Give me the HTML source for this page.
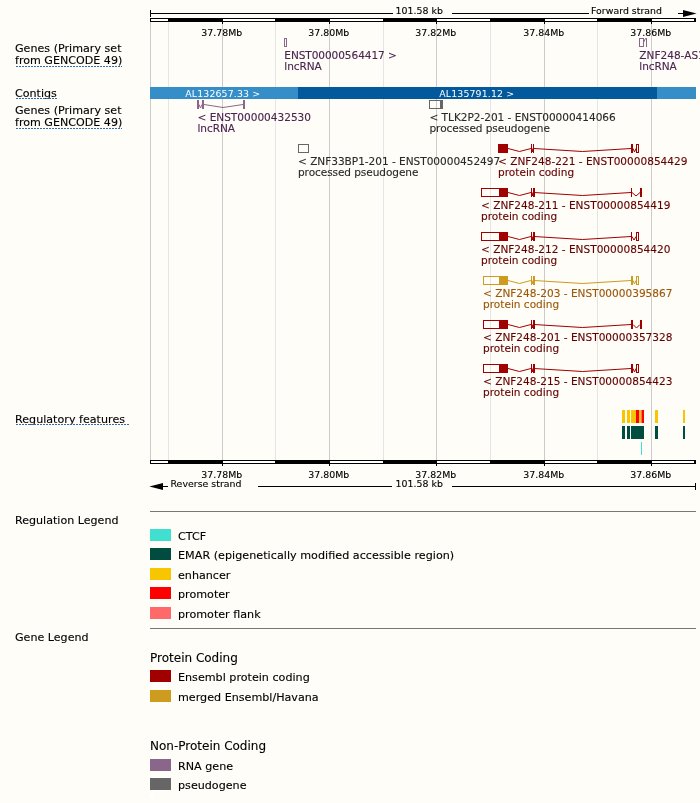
<!DOCTYPE html>
<html><head><meta charset="utf-8"><title>Region in detail</title>
<style>
html,body{margin:0;padding:0;background:#fffdf7;}
svg{display:block;will-change:transform;font-family:"DejaVu Sans","Liberation Sans",sans-serif;}
text{white-space:pre;}
</style></head><body>
<svg width="700" height="803" viewBox="0 0 700 803">
<rect x="0" y="0" width="700" height="803" fill="#fffdf7"/>
<rect x="150" y="22" width="1" height="438" fill="#cccccc"/>
<rect x="168" y="22" width="1" height="438" fill="#e5e5e5"/>
<rect x="222" y="22" width="1" height="438" fill="#cccccc"/>
<rect x="275" y="22" width="1" height="438" fill="#e5e5e5"/>
<rect x="329" y="22" width="1" height="438" fill="#cccccc"/>
<rect x="383" y="22" width="1" height="438" fill="#e5e5e5"/>
<rect x="436" y="22" width="1" height="438" fill="#cccccc"/>
<rect x="490" y="22" width="1" height="438" fill="#e5e5e5"/>
<rect x="544" y="22" width="1" height="438" fill="#cccccc"/>
<rect x="597" y="22" width="1" height="438" fill="#e5e5e5"/>
<rect x="651" y="22" width="1" height="438" fill="#cccccc"/>
<rect x="150" y="18" width="546" height="4" fill="#000"/>
<rect x="151" y="19" width="17" height="2" fill="#fff"/>
<rect x="223" y="19" width="52" height="2" fill="#fff"/>
<rect x="330" y="19" width="53" height="2" fill="#fff"/>
<rect x="437" y="19" width="53" height="2" fill="#fff"/>
<rect x="545" y="19" width="52" height="2" fill="#fff"/>
<rect x="652" y="19" width="42" height="2" fill="#fff"/>
<rect x="222" y="22" width="1" height="2" fill="#000"/>
<rect x="329" y="22" width="1" height="2" fill="#000"/>
<rect x="436" y="22" width="1" height="2" fill="#000"/>
<rect x="544" y="22" width="1" height="2" fill="#000"/>
<rect x="651" y="22" width="1" height="2" fill="#000"/>
<rect x="150" y="460" width="546" height="4" fill="#000"/>
<rect x="151" y="461" width="17" height="2" fill="#fff"/>
<rect x="223" y="461" width="52" height="2" fill="#fff"/>
<rect x="330" y="461" width="53" height="2" fill="#fff"/>
<rect x="437" y="461" width="53" height="2" fill="#fff"/>
<rect x="545" y="461" width="52" height="2" fill="#fff"/>
<rect x="652" y="461" width="42" height="2" fill="#fff"/>
<rect x="222" y="464" width="1" height="2" fill="#000"/>
<rect x="329" y="464" width="1" height="2" fill="#000"/>
<rect x="436" y="464" width="1" height="2" fill="#000"/>
<rect x="544" y="464" width="1" height="2" fill="#000"/>
<rect x="651" y="464" width="1" height="2" fill="#000"/>
<text x="201.2" y="35.5" font-size="9.4" fill="#000000" stroke="#000000" stroke-width="0.12" textLength="41" lengthAdjust="spacing">37.78Mb</text>
<text x="201.2" y="477.5" font-size="9.4" fill="#000000" stroke="#000000" stroke-width="0.12" textLength="41" lengthAdjust="spacing">37.78Mb</text>
<text x="308.2" y="35.5" font-size="9.4" fill="#000000" stroke="#000000" stroke-width="0.12" textLength="41" lengthAdjust="spacing">37.80Mb</text>
<text x="308.2" y="477.5" font-size="9.4" fill="#000000" stroke="#000000" stroke-width="0.12" textLength="41" lengthAdjust="spacing">37.80Mb</text>
<text x="415.2" y="35.5" font-size="9.4" fill="#000000" stroke="#000000" stroke-width="0.12" textLength="41" lengthAdjust="spacing">37.82Mb</text>
<text x="415.2" y="477.5" font-size="9.4" fill="#000000" stroke="#000000" stroke-width="0.12" textLength="41" lengthAdjust="spacing">37.82Mb</text>
<text x="523.2" y="35.5" font-size="9.4" fill="#000000" stroke="#000000" stroke-width="0.12" textLength="41" lengthAdjust="spacing">37.84Mb</text>
<text x="523.2" y="477.5" font-size="9.4" fill="#000000" stroke="#000000" stroke-width="0.12" textLength="41" lengthAdjust="spacing">37.84Mb</text>
<text x="630.2" y="35.5" font-size="9.4" fill="#000000" stroke="#000000" stroke-width="0.12" textLength="41" lengthAdjust="spacing">37.86Mb</text>
<text x="630.2" y="477.5" font-size="9.4" fill="#000000" stroke="#000000" stroke-width="0.12" textLength="41" lengthAdjust="spacing">37.86Mb</text>
<rect x="150" y="10" width="1" height="7" fill="#000"/>
<rect x="150" y="13" width="243" height="1" fill="#000"/>
<text x="395.5" y="14" font-size="9.4" fill="#000000" stroke="#000000" stroke-width="0.12" textLength="47.5" lengthAdjust="spacing">101.58 kb</text>
<rect x="452" y="13" width="137" height="1" fill="#000"/>
<text x="591" y="14" font-size="9.4" fill="#000000" stroke="#000000" stroke-width="0.12" textLength="71" lengthAdjust="spacing">Forward strand</text>
<rect x="678" y="13" width="6" height="1" fill="#000"/>
<polygon points="683,10 696.6,13.5 683,17" fill="#000"/>
<polygon points="163,483 149.4,486.5 163,490" fill="#000"/>
<rect x="162" y="486" width="6" height="1" fill="#000"/>
<text x="170.5" y="487" font-size="9.4" fill="#000000" stroke="#000000" stroke-width="0.12" textLength="71" lengthAdjust="spacing">Reverse strand</text>
<rect x="258" y="486" width="134" height="1" fill="#000"/>
<text x="395.5" y="487" font-size="9.4" fill="#000000" stroke="#000000" stroke-width="0.12" textLength="47.5" lengthAdjust="spacing">101.58 kb</text>
<rect x="452" y="486" width="244" height="1" fill="#000"/>
<rect x="695" y="483" width="1" height="7" fill="#000"/>
<text x="15" y="52" font-size="11.1" fill="#000000" stroke="#000000" stroke-width="0.12" textLength="106.5" lengthAdjust="spacing">Genes (Primary set</text>
<text x="15" y="64.2" font-size="11.1" fill="#000000" stroke="#000000" stroke-width="0.12" textLength="107.3" lengthAdjust="spacing">from GENCODE 49)</text>
<line x1="16" y1="66.5" x2="122" y2="66.5" stroke="#336cab" stroke-width="1" stroke-dasharray="2,1"/>
<text x="15" y="97" font-size="11.1" fill="#000000" stroke="#000000" stroke-width="0.12" textLength="41.8" lengthAdjust="spacing">Contigs</text>
<line x1="16" y1="98.5" x2="57" y2="98.5" stroke="#336cab" stroke-width="1" stroke-dasharray="2,1"/>
<text x="15" y="114" font-size="11.1" fill="#000000" stroke="#000000" stroke-width="0.12" textLength="106.5" lengthAdjust="spacing">Genes (Primary set</text>
<text x="15" y="126.2" font-size="11.1" fill="#000000" stroke="#000000" stroke-width="0.12" textLength="107.3" lengthAdjust="spacing">from GENCODE 49)</text>
<line x1="16" y1="128.5" x2="122" y2="128.5" stroke="#336cab" stroke-width="1" stroke-dasharray="2,1"/>
<text x="15" y="422.7" font-size="11.1" fill="#000000" stroke="#000000" stroke-width="0.12" textLength="110" lengthAdjust="spacing">Regulatory features</text>
<line x1="16" y1="424.5" x2="129" y2="424.5" stroke="#336cab" stroke-width="1" stroke-dasharray="2,1"/>
<text x="15" y="524" font-size="11.1" fill="#000000" stroke="#000000" stroke-width="0.12">Regulation Legend</text>
<text x="15" y="641" font-size="11.1" fill="#000000" stroke="#000000" stroke-width="0.12">Gene Legend</text>
<rect x="150" y="87" width="148" height="12" fill="#368ec9"/>
<rect x="298" y="87" width="359" height="12" fill="#02599c"/>
<rect x="657" y="87" width="39" height="12" fill="#368ec9"/>
<text x="185.2" y="96.9" font-size="9.4" fill="#ffffff" stroke="#ffffff" stroke-width="0" textLength="75" lengthAdjust="spacing">AL132657.33 &gt;</text>
<text x="439.2" y="96.9" font-size="9.4" fill="#ffffff" stroke="#ffffff" stroke-width="0" textLength="75" lengthAdjust="spacing">AL135791.12 &gt;</text>
<rect x="284.5" y="38.5" width="2" height="8" fill="none" stroke="#8b668b" stroke-width="1"/>
<text x="284.3" y="58.5" font-size="10.55" fill="#4b2350" stroke="#4b2350" stroke-width="0.12" textLength="112.5" lengthAdjust="spacing">ENST00000564417 &gt;</text>
<text x="284.3" y="69.5" font-size="10.55" fill="#4b2350" stroke="#4b2350" stroke-width="0.12" textLength="37.5" lengthAdjust="spacing">lncRNA</text>
<rect x="639.5" y="38.5" width="4" height="8" fill="none" stroke="#8b668b" stroke-width="1"/>
<polyline points="643.5,42.5 645.5,38.5 646.5,38.5" fill="none" stroke="#8b668b" stroke-width="1"/>
<rect x="646" y="38" width="1" height="9" fill="#8b668b"/>
<text x="639.3" y="58.5" font-size="10.55" fill="#4b2350" stroke="#4b2350" stroke-width="0.12">ZNF248-AS1-201 &gt;</text>
<text x="639.3" y="69.5" font-size="10.55" fill="#4b2350" stroke="#4b2350" stroke-width="0.12" textLength="37.5" lengthAdjust="spacing">lncRNA</text>
<rect x="197" y="100" width="2" height="9" fill="#8b668b"/>
<rect x="202" y="100" width="2" height="9" fill="#8b668b"/>
<polyline points="199,104.5 200.5,108 202,104.5" fill="none" stroke="#8b668b"/>
<polyline points="204,104.5 223,107.5 243,104.5" fill="none" stroke="#8b668b"/>
<rect x="243" y="100" width="2" height="9" fill="#8b668b"/>
<text x="197.5" y="120.7" font-size="10.55" fill="#4b2350" stroke="#4b2350" stroke-width="0.12" textLength="113.5" lengthAdjust="spacing">&lt; ENST00000432530</text>
<text x="197.5" y="131.7" font-size="10.55" fill="#4b2350" stroke="#4b2350" stroke-width="0.12" textLength="37.5" lengthAdjust="spacing">lncRNA</text>
<rect x="429.5" y="100.5" width="13" height="8" fill="none" stroke="#666666" stroke-width="1"/>
<rect x="440" y="100" width="3" height="9" fill="#666666"/>
<text x="429.5" y="120.7" font-size="10.55" fill="#2a2a2a" stroke="#2a2a2a" stroke-width="0.12" textLength="186.2" lengthAdjust="spacing">&lt; TLK2P2-201 - ENST00000414066</text>
<text x="429.5" y="131.7" font-size="10.55" fill="#2a2a2a" stroke="#2a2a2a" stroke-width="0.12" textLength="120.4" lengthAdjust="spacing">processed pseudogene</text>
<rect x="298.5" y="144.5" width="10" height="8" fill="none" stroke="#666666" stroke-width="1"/>
<text x="298" y="164.7" font-size="10.55" fill="#2a2a2a" stroke="#2a2a2a" stroke-width="0.12" textLength="202.2" lengthAdjust="spacing">&lt; ZNF33BP1-201 - ENST00000452497</text>
<text x="298" y="175.7" font-size="10.55" fill="#2a2a2a" stroke="#2a2a2a" stroke-width="0.12" textLength="120.4" lengthAdjust="spacing">processed pseudogene</text>
<rect x="498" y="144" width="10" height="9" fill="#a00000"/>
<polyline points="508,148.5 519.5,151.5 531,148.5" fill="none" stroke="#a00000"/>
<rect x="531" y="144" width="1" height="9" fill="#a00000"/>
<polyline points="532,148.5 532.5,152 533,148.5" fill="none" stroke="#a00000"/>
<rect x="533" y="144" width="1" height="9" fill="#a00000"/>
<polyline points="534,148.5 582.5,151.5 631,148.5" fill="none" stroke="#a00000"/>
<rect x="631" y="144" width="2" height="9" fill="#a00000"/>
<polyline points="633,148.5 634.5,152 636,148.5" fill="none" stroke="#a00000"/>
<rect x="636.5" y="144.5" width="2" height="8" fill="none" stroke="#a00000" stroke-width="1"/>
<text x="498" y="164.7" font-size="10.55" fill="#620000" stroke="#620000" stroke-width="0.12">&lt; ZNF248-221 - ENST00000854429</text>
<text x="498" y="175.7" font-size="10.55" fill="#620000" stroke="#620000" stroke-width="0.12">protein coding</text>
<rect x="481.5" y="188.5" width="26" height="8" fill="none" stroke="#a00000" stroke-width="1"/>
<rect x="499" y="188" width="9" height="9" fill="#a00000"/>
<polyline points="508,192.5 519.5,195.5 531,192.5" fill="none" stroke="#a00000"/>
<rect x="531" y="188" width="1" height="9" fill="#a00000"/>
<polyline points="532,192.5 532.5,196 533,192.5" fill="none" stroke="#a00000"/>
<rect x="533" y="188" width="2" height="9" fill="#a00000"/>
<polyline points="534,192.5 582.5,195.5 631,192.5" fill="none" stroke="#a00000"/>
<rect x="631" y="188" width="1" height="9" fill="#a00000"/>
<polyline points="632,192.5 636,196 640,192.5" fill="none" stroke="#a00000"/>
<rect x="640" y="188" width="2" height="9" fill="#a00000"/>
<text x="481" y="208.7" font-size="10.55" fill="#620000" stroke="#620000" stroke-width="0.12">&lt; ZNF248-211 - ENST00000854419</text>
<text x="481" y="219.7" font-size="10.55" fill="#620000" stroke="#620000" stroke-width="0.12">protein coding</text>
<rect x="481.5" y="232.5" width="26" height="8" fill="none" stroke="#a00000" stroke-width="1"/>
<rect x="499" y="232" width="9" height="9" fill="#a00000"/>
<polyline points="508,236.5 519.5,239.5 531,236.5" fill="none" stroke="#a00000"/>
<rect x="531" y="232" width="1" height="9" fill="#a00000"/>
<polyline points="532,236.5 532.5,240 533,236.5" fill="none" stroke="#a00000"/>
<rect x="533" y="232" width="2" height="9" fill="#a00000"/>
<polyline points="534,236.5 582.5,239.5 631,236.5" fill="none" stroke="#a00000"/>
<rect x="631" y="232" width="1" height="9" fill="#a00000"/>
<polyline points="632,236.5 634,240 636,236.5" fill="none" stroke="#a00000"/>
<rect x="636.5" y="232.5" width="2" height="8" fill="none" stroke="#a00000" stroke-width="1"/>
<text x="481" y="252.7" font-size="10.55" fill="#620000" stroke="#620000" stroke-width="0.12">&lt; ZNF248-212 - ENST00000854420</text>
<text x="481" y="263.7" font-size="10.55" fill="#620000" stroke="#620000" stroke-width="0.12">protein coding</text>
<rect x="483.5" y="276.5" width="24" height="8" fill="none" stroke="#cd9b1d" stroke-width="1"/>
<rect x="499" y="276" width="9" height="9" fill="#cd9b1d"/>
<polyline points="508,280.5 519.5,283.5 531,280.5" fill="none" stroke="#cd9b1d"/>
<rect x="531" y="276" width="1" height="9" fill="#cd9b1d"/>
<polyline points="532,280.5 532.5,284 533,280.5" fill="none" stroke="#cd9b1d"/>
<rect x="533" y="276" width="2" height="9" fill="#cd9b1d"/>
<polyline points="534,280.5 582.5,283.5 631,280.5" fill="none" stroke="#cd9b1d"/>
<rect x="631" y="276" width="2" height="9" fill="#cd9b1d"/>
<polyline points="633,280.5 634.5,284 636,280.5" fill="none" stroke="#cd9b1d"/>
<rect x="636.5" y="276.5" width="2" height="8" fill="none" stroke="#cd9b1d" stroke-width="1"/>
<text x="483" y="296.7" font-size="10.55" fill="#9c570a" stroke="#9c570a" stroke-width="0.12">&lt; ZNF248-203 - ENST00000395867</text>
<text x="483" y="307.7" font-size="10.55" fill="#9c570a" stroke="#9c570a" stroke-width="0.12">protein coding</text>
<rect x="483.5" y="320.5" width="24" height="8" fill="none" stroke="#a00000" stroke-width="1"/>
<rect x="499" y="320" width="9" height="9" fill="#a00000"/>
<polyline points="508,324.5 519.5,327.5 531,324.5" fill="none" stroke="#a00000"/>
<rect x="531" y="320" width="1" height="9" fill="#a00000"/>
<polyline points="532,324.5 532.5,328 533,324.5" fill="none" stroke="#a00000"/>
<rect x="533" y="320" width="2" height="9" fill="#a00000"/>
<polyline points="534,324.5 582.5,327.5 631,324.5" fill="none" stroke="#a00000"/>
<rect x="631" y="320" width="2" height="9" fill="#a00000"/>
<polyline points="633,324.5 636.5,328 640,324.5" fill="none" stroke="#a00000"/>
<rect x="640" y="320" width="2" height="9" fill="#a00000"/>
<text x="483" y="340.7" font-size="10.55" fill="#620000" stroke="#620000" stroke-width="0.12">&lt; ZNF248-201 - ENST00000357328</text>
<text x="483" y="351.7" font-size="10.55" fill="#620000" stroke="#620000" stroke-width="0.12">protein coding</text>
<rect x="483.5" y="364.5" width="24" height="8" fill="none" stroke="#a00000" stroke-width="1"/>
<rect x="499" y="364" width="9" height="9" fill="#a00000"/>
<polyline points="508,368.5 519.5,371.5 531,368.5" fill="none" stroke="#a00000"/>
<rect x="531" y="364" width="1" height="9" fill="#a00000"/>
<polyline points="532,368.5 532.5,372 533,368.5" fill="none" stroke="#a00000"/>
<rect x="533" y="364" width="2" height="9" fill="#a00000"/>
<polyline points="534,368.5 582.5,371.5 631,368.5" fill="none" stroke="#a00000"/>
<rect x="631" y="364" width="2" height="9" fill="#a00000"/>
<polyline points="633,368.5 634.5,372 636,368.5" fill="none" stroke="#a00000"/>
<rect x="636.5" y="364.5" width="2" height="8" fill="none" stroke="#a00000" stroke-width="1"/>
<text x="483" y="384.7" font-size="10.55" fill="#620000" stroke="#620000" stroke-width="0.12">&lt; ZNF248-215 - ENST00000854423</text>
<text x="483" y="395.7" font-size="10.55" fill="#620000" stroke="#620000" stroke-width="0.12">protein coding</text>
<rect x="622" y="410" width="3" height="13" fill="#f8c600"/>
<rect x="627" y="410" width="3" height="13" fill="#f8c600"/>
<rect x="631" y="410" width="5" height="13" fill="#f8c600"/>
<rect x="636" y="410" width="3" height="13" fill="#ff0000"/>
<rect x="639" y="410" width="2" height="13" fill="#f8c600"/>
<rect x="641" y="410" width="1" height="13" fill="#ff6969"/>
<rect x="642" y="410" width="2" height="13" fill="#ff0000"/>
<rect x="655" y="410" width="3" height="13" fill="#f8c600"/>
<rect x="683" y="410" width="2" height="13" fill="#f8c600"/>
<rect x="622" y="426" width="3" height="13" fill="#004d40"/>
<rect x="627" y="426" width="3" height="13" fill="#004d40"/>
<rect x="631" y="426" width="13" height="13" fill="#004d40"/>
<rect x="655" y="426" width="3" height="13" fill="#004d40"/>
<rect x="683" y="426" width="2" height="13" fill="#004d40"/>
<rect x="641" y="442" width="1" height="13" fill="#40e0d0"/>
<rect x="150" y="511" width="546" height="1" fill="#777777"/>
<rect x="150" y="628" width="546" height="1" fill="#777777"/>
<rect x="150" y="622" width="3" height="5" fill="#ffffff"/>
<rect x="150" y="793" width="3" height="5" fill="#ffffff"/>
<rect x="150" y="529" width="21" height="12" fill="#40e0d0"/>
<text x="178" y="539.9" font-size="11.15" fill="#000000" stroke="#000000" stroke-width="0.12">CTCF</text>
<rect x="150" y="548" width="21" height="12" fill="#004d40"/>
<text x="178" y="558.9" font-size="11.15" fill="#000000" stroke="#000000" stroke-width="0.12" textLength="276.2" lengthAdjust="spacing">EMAR (epigenetically modified accessible region)</text>
<rect x="150" y="568" width="21" height="12" fill="#f8c600"/>
<text x="178" y="578.9" font-size="11.15" fill="#000000" stroke="#000000" stroke-width="0.12">enhancer</text>
<rect x="150" y="587" width="21" height="12" fill="#ff0000"/>
<text x="178" y="597.9" font-size="11.15" fill="#000000" stroke="#000000" stroke-width="0.12">promoter</text>
<rect x="150" y="607" width="21" height="12" fill="#ff6969"/>
<text x="178" y="617.9" font-size="11.15" fill="#000000" stroke="#000000" stroke-width="0.12">promoter flank</text>
<text x="150" y="662" font-size="12" fill="#000000" stroke="#000000" stroke-width="0.12">Protein Coding</text>
<rect x="150" y="670" width="21" height="12" fill="#a00000"/>
<text x="178" y="681" font-size="11.15" fill="#000000" stroke="#000000" stroke-width="0.12">Ensembl protein coding</text>
<rect x="150" y="690" width="21" height="12" fill="#cd9b1d"/>
<text x="178" y="701" font-size="11.15" fill="#000000" stroke="#000000" stroke-width="0.12">merged Ensembl/Havana</text>
<text x="150" y="750" font-size="12" fill="#000000" stroke="#000000" stroke-width="0.12">Non-Protein Coding</text>
<rect x="150" y="759" width="21" height="12" fill="#8b668b"/>
<text x="178" y="770" font-size="11.15" fill="#000000" stroke="#000000" stroke-width="0.12">RNA gene</text>
<rect x="150" y="778" width="21" height="12" fill="#666666"/>
<text x="178" y="789" font-size="11.15" fill="#000000" stroke="#000000" stroke-width="0.12">pseudogene</text>
</svg>
</body></html>
